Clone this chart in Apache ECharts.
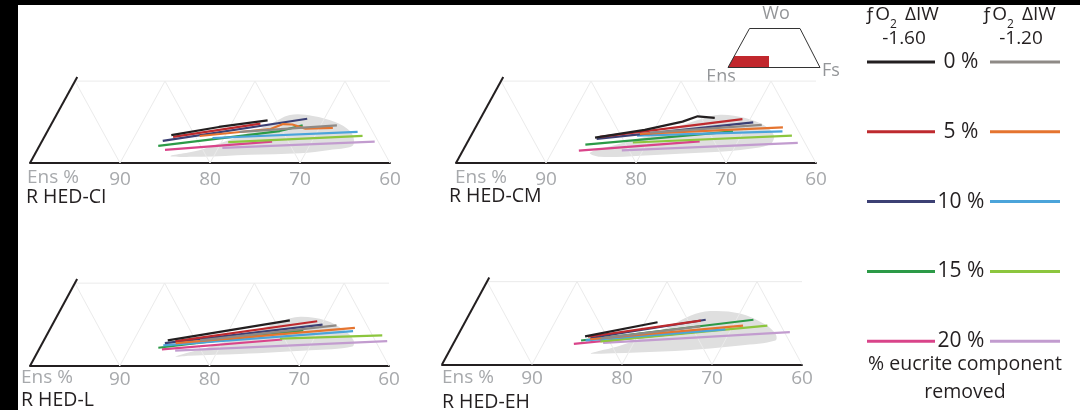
<!DOCTYPE html>
<html>
<head>
<meta charset="utf-8">
<script src="https://cdn.jsdelivr.net/npm/echarts@6/dist/echarts.min.js"></script>
<style>
  html, body { margin: 0; padding: 0; background: #fff; }
  #chart { width: 1080px; height: 410px; }
</style>
</head>
<body>
<div id="chart"></div>
<script>
// points are [Ens %, Wo %]; x position on the Ens axis is Ens + Wo/2 (ternary projection)
const panelNames = ['R HED-CI', 'R HED-CM', 'R HED-L', 'R HED-EH']
const ticks = [60, 70, 80, 90, 100]

// line order: 0% -1.60, 0% -1.20, 5% -1.60, 5% -1.20, ... 20% -1.20
const lineColors = ['#231f20', '#8e8a86', '#be2a2e', '#e5742f', '#3c4074',
  '#4ba4da', '#2c9a47', '#8cc63e', '#d9448a', '#c29ccf']

const linesCI = [
  [[82.6, 3.4], [76.8, 4.4], [71.0, 5.2]],
  [[74.8, 3.8], [63.6, 4.6]],
  [[82.5, 3.2], [72.0, 4.8]],
  [[79.5, 3.3], [71.2, 4.15], [69.5, 4.75], [68.5, 4.7], [67.3, 4.2], [64.2, 4.3]],
  [[83.9, 2.7], [66.5, 5.4]],
  [[78.2, 3.05], [61.7, 3.8]],
  [[84.7, 2.1], [70.3, 3.9], [67.4, 4.6]],
  [[76.7, 2.55], [61.4, 3.3]],
  [[84.2, 1.6], [71.8, 2.6]],
  [[77.7, 1.85], [60.4, 2.6]]
]
const linesCM = [
  [[83.0, 3.1], [77.0, 4.05], [72.3, 5.05], [70.3, 5.7], [68.5, 5.5]],
  [[76.6, 3.7], [63.7, 4.65]],
  [[82.4, 3.2], [65.5, 5.35]],
  [[77.8, 3.55], [61.5, 4.35]],
  [[82.9, 2.95], [64.5, 4.95]],
  [[78.2, 3.35], [61.8, 3.85]],
  [[84.5, 2.25], [67.3, 3.85]],
  [[79.1, 2.5], [61.0, 3.35]],
  [[85.6, 1.5], [71.6, 2.65]],
  [[80.8, 1.55], [60.8, 2.45]]
]
const linesL = [
  [[83.1, 3.1], [68.3, 5.5]],
  [[79.5, 3.1], [63.4, 4.9]],
  [[82.3, 3.0], [65.3, 5.4]],
  [[82.4, 2.75], [61.5, 4.6]],
  [[83.6, 2.75], [64.9, 5.0]],
  [[83.9, 2.5], [61.9, 4.2]],
  [[84.6, 2.2], [67.4, 4.3]],
  [[70.5, 3.3], [58.9, 3.7]],
  [[84.3, 2.0], [70.3, 3.2]],
  [[82.9, 1.85], [58.7, 3.0]]
]
const linesEH = [
  [[82.4, 3.4], [73.5, 5.1]],
  [[80.8, 3.15], [69.0, 4.6]],
  [[82.1, 3.35], [68.6, 5.3]],
  [[82.0, 3.05], [64.2, 4.7]],
  [[81.9, 3.2], [68.0, 5.4]],
  [[82.6, 2.9], [66.4, 4.25]],
  [[83.1, 2.9], [62.7, 5.4]],
  [[81.0, 2.8], [61.5, 4.7]],
  [[84.1, 2.5], [69.3, 4.0]],
  [[80.8, 2.6], [59.4, 3.9]]
]

// grey fields (outlines)
const fieldCI = [[84.0, 0.85], [80.3, 1.6], [75.0, 3.3], [70.9, 4.75], [68.2, 5.85], [65.7, 5.75],
  [63.6, 5.0], [62.5, 3.9], [62.6, 2.8], [63.2, 2.05], [65.9, 1.6], [69.4, 1.2], [75.1, 1.0], [80.7, 0.75]]
const fieldCM = [[84.5, 1.25], [80.6, 2.35], [75.5, 3.7], [70.3, 5.3], [67.7, 5.9], [65.1, 5.5],
  [63.4, 4.55], [63.0, 3.35], [64.0, 2.25], [67.6, 1.6], [72.3, 1.25], [79.1, 0.9], [83.6, 0.75]]
const fieldL = [[83.2, 1.15], [78.7, 2.35], [73.5, 3.95], [69.4, 5.4], [66.9, 5.95], [64.3, 5.5],
  [62.8, 4.3], [62.4, 3.1], [62.9, 2.35], [67.8, 1.9], [75.9, 1.45], [81.6, 1.25]]
const fieldEH = [[82.8, 1.35], [79.0, 2.3], [73.6, 4.1], [69.4, 5.9], [67.0, 6.45], [63.8, 6.15],
  [61.7, 4.85], [61.1, 3.65], [61.5, 2.9], [65.7, 2.3], [70.4, 1.85], [76.2, 1.5], [81.7, 1.3]]

// quadrilateral frame pieces
const zigzag = [[90, 10], [90, 0], [80, 10], [80, 0], [70, 10], [70, 0], [60, 10], [60, 0]]
const topEdge = [[90, 10], [55, 10]]
const leftEdge = [[100, 0], [89.5, 10.5]]

// legend
const legendPct = ['0 %', '5 %', '10 %', '15 %', '20 %']
const legendFO2 = ['-1.60', '-1.20']

const allLines = [linesCI, linesCM, linesL, linesEH]
const allFields = [fieldCI, fieldCM, fieldL, fieldEH]

const proj = p => [p[0] + p[1] / 2, p[1]]

const grids = [
  { left: 30, top: 77, width: 360, height: 86 },
  { left: 456, top: 77, width: 360, height: 86 },
  { left: 30, top: 279, width: 359, height: 87 },
  { left: 442, top: 277.5, width: 360, height: 87 }
]
const labelMargins = [7, 7, 4, 5]

const font = '"Open Sans", "Noto Sans", sans-serif'
const tickGrey = '#a7a9ac'
const ink = '#231f20'

const xAxes = grids.map((g, i) => ({
  gridIndex: i,
  type: 'value',
  min: 60,
  max: 100,
  interval: 10,
  inverse: true,
  axisLine: { lineStyle: { color: ink, width: 2 } },
  axisTick: { show: false },
  splitLine: { show: false },
  axisLabel: {
    color: tickGrey,
    fontSize: 19,
    fontFamily: font,
    margin: labelMargins[i],
    formatter: v => (ticks.includes(v) && v !== 100 ? String(v) : '')
  }
}))
const yAxes = grids.map((g, i) => ({
  gridIndex: i, type: 'value', min: 0, max: 10.5, show: false
}))

const series = []
grids.forEach((g, i) => {
  const field = allFields[i]
  series.push({
    type: 'custom',
    xAxisIndex: i,
    yAxisIndex: i,
    silent: true,
    z: 1,
    data: field.map(proj),
    renderItem: (params, api) => {
      if (params.dataIndex !== 0) return null
      return {
        type: 'polygon',
        shape: { points: field.map(p => api.coord(proj(p))), smooth: 0.35 },
        style: { fill: '#dfdfdf' }
      }
    }
  })
  const frame = (data, color, width) => ({
    type: 'line', xAxisIndex: i, yAxisIndex: i, data: data.map(proj),
    showSymbol: false, silent: true, z: 2, clip: false,
    lineStyle: { color, width }
  })
  series.push(frame(zigzag, '#ebebeb', 1))
  series.push(frame(topEdge, '#ebebeb', 1))
  series.push(frame(leftEdge, ink, 2))
  // 20 % first so the 0 % lines sit on top
  for (let k = allLines[i].length - 1; k >= 0; k--) {
    series.push({
      type: 'line', xAxisIndex: i, yAxisIndex: i,
      data: allLines[i][k].map(proj),
      showSymbol: false, silent: true, z: 3,
      lineStyle: { color: lineColors[k], width: 2.2 }
    })
  }
})

const graphic = [
  { type: 'rect', shape: { x: 0, y: 0, width: 1080, height: 5 }, style: { fill: '#000' }, z: 100 },
  { type: 'rect', shape: { x: 0, y: 0, width: 18, height: 410 }, style: { fill: '#000' }, z: 100 }
]

// panel labels
const ensPos = [[27, 178], [455, 178], [21, 378], [442, 378]]
const namePos = [[26, 197], [449, 196], [21, 400], [442, 402]]
panelNames.forEach((n, i) => {
  graphic.push({
    type: 'text', x: ensPos[i][0], y: ensPos[i][1],
    style: { text: 'Ens %', fill: tickGrey, font: '19px ' + font, textVerticalAlign: 'middle' }
  })
  graphic.push({
    type: 'text', x: namePos[i][0], y: namePos[i][1],
    style: { text: n, fill: ink, font: '19.5px ' + font, textVerticalAlign: 'middle' }
  })
})

// inset quadrilateral sketch
graphic.push({
  type: 'polygon', shape: { points: [[728, 67.5], [734.3, 56], [769, 56], [769, 67.5]] },
  style: { fill: '#c1272d' }
})
graphic.push({
  type: 'polygon', shape: { points: [[728, 67.5], [749.5, 28.5], [800, 28.5], [820, 67.5]] },
  style: { fill: null, stroke: '#333', lineWidth: 1 }
})
;[['Wo', 776, 14], ['Ens', 721, 77], ['Fs', 831, 71]].forEach(t => {
  graphic.push({
    type: 'text', x: t[1], y: t[2],
    style: { text: t[0], fill: '#939598', font: '18px ' + font, textAlign: 'center', textVerticalAlign: 'middle' }
  })
})

// legend
const legendCenters = [904, 1021]
legendCenters.forEach((c, j) => {
  graphic.push({ type: 'text', x: c - 14, y: 15,
    style: { text: 'ƒO', fill: ink, font: '19px ' + font, textAlign: 'right', textVerticalAlign: 'middle' } })
  graphic.push({ type: 'text', x: c - 14, y: 25,
    style: { text: '2', fill: ink, font: '12px ' + font, textAlign: 'left', textVerticalAlign: 'middle' } })
  graphic.push({ type: 'text', x: c + 1, y: 15,
    style: { text: 'ΔIW', fill: ink, font: '19px ' + font, textAlign: 'left', textVerticalAlign: 'middle' } })
  graphic.push({ type: 'text', x: c, y: 39,
    style: { text: legendFO2[j], fill: ink, font: '19px ' + font, textAlign: 'center', textVerticalAlign: 'middle' } })
})
legendPct.forEach((p, i) => {
  const y = 62 + i * 69.8
  graphic.push({ type: 'line', shape: { x1: 867, y1: y, x2: 935, y2: y },
    style: { stroke: lineColors[i * 2], lineWidth: 3 } })
  graphic.push({ type: 'line', shape: { x1: 990, y1: y, x2: 1060, y2: y },
    style: { stroke: lineColors[i * 2 + 1], lineWidth: 3 } })
  graphic.push({ type: 'text', x: 961, y: y,
    style: { text: p, fill: ink, font: '21px ' + font, textAlign: 'center', textVerticalAlign: 'middle' } })
})
graphic.push({ type: 'text', x: 965, y: 364,
  style: { text: '% eucrite component', fill: ink, font: '19.5px ' + font, textAlign: 'center', textVerticalAlign: 'middle' } })
graphic.push({ type: 'text', x: 965, y: 392,
  style: { text: 'removed', fill: ink, font: '19.5px ' + font, textAlign: 'center', textVerticalAlign: 'middle' } })

const chart = echarts.init(document.getElementById('chart'))
chart.setOption({
  animation: false,
  backgroundColor: '#fff',
  grid: grids,
  xAxis: xAxes,
  yAxis: yAxes,
  series,
  graphic
})
</script>
</body>
</html>
